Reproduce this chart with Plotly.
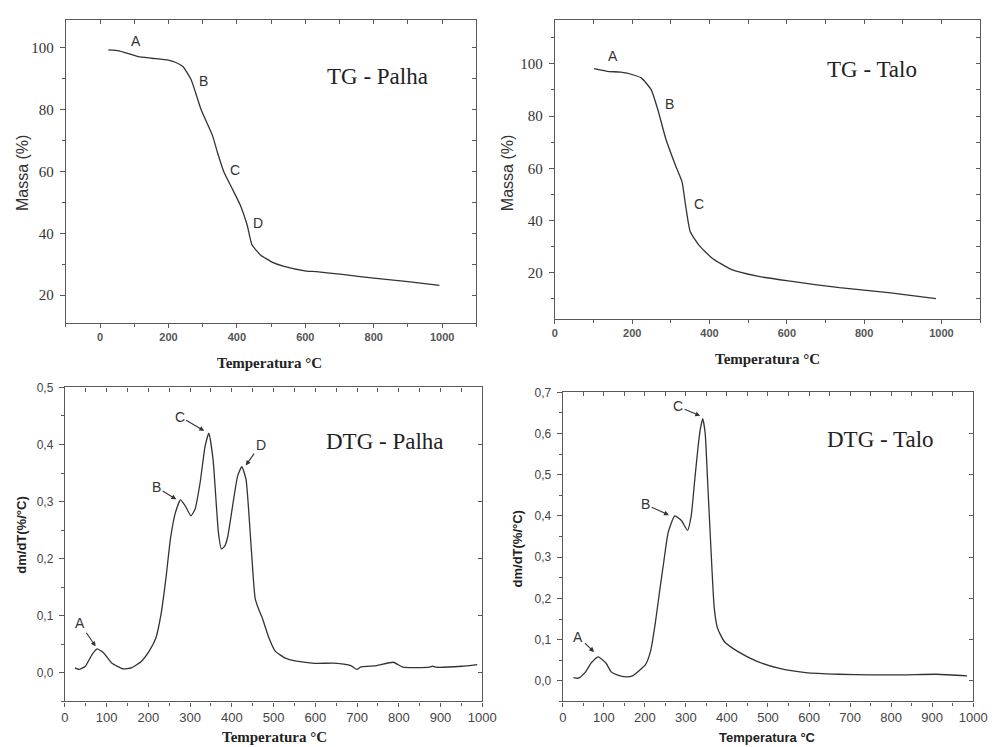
import plotly.graph_objects as go

# ---------------- data ----------------
tg_palha_T = [24, 55, 80, 112, 151, 199, 220, 242, 266, 295, 329, 343, 362, 386, 410, 430, 444, 468, 506, 535, 603, 632, 708, 800, 900, 992]
tg_palha_M = [99.3, 99.0, 98.2, 97.1, 96.6, 96.0, 95.3, 93.9, 89.7, 80.1, 71.5, 66.2, 59.8, 54.5, 49.1, 42.7, 36.3, 33.1, 30.5, 29.4, 27.8, 27.6, 26.7, 25.5, 24.4, 23.2]

tg_talo_T = [101, 135, 170, 202, 224, 249, 266, 287, 312, 329, 338, 350, 372, 406, 456, 524, 609, 736, 863, 986]
tg_talo_M = [98.1, 97.1, 96.8, 95.8, 94.5, 90.1, 82.6, 71.2, 61.1, 54.7, 45.9, 35.8, 30.7, 25.7, 21.3, 18.7, 16.8, 14.3, 12.4, 10.1]

dtg_palha_T = [24, 34, 49, 65, 77, 93, 112, 140, 159, 183, 202, 218, 230, 242, 253, 265, 277, 288, 302, 312, 324, 336, 345, 355, 363, 368, 375, 383, 390, 402, 414, 424, 434, 445, 456, 465, 473, 489, 504, 528, 559, 598, 653, 685, 700, 708, 747, 787, 810, 873, 881, 889, 951, 988]
dtg_palha_V = [0.0087, 0.006, 0.0116, 0.032, 0.042, 0.035, 0.0174, 0.007, 0.0087, 0.020, 0.038, 0.061, 0.101, 0.165, 0.235, 0.281, 0.303, 0.293, 0.275, 0.287, 0.333, 0.397, 0.420, 0.374, 0.293, 0.245, 0.217, 0.222, 0.238, 0.293, 0.345, 0.361, 0.339, 0.235, 0.130, 0.110, 0.096, 0.061, 0.038, 0.026, 0.020, 0.0168, 0.0168, 0.0128, 0.006, 0.010, 0.0128, 0.0186, 0.0099, 0.0099, 0.012, 0.0099, 0.0116, 0.0145]

dtg_talo_T = [26, 38, 54, 70, 86, 98, 106, 118, 134, 154, 170, 190, 202, 214, 225, 237, 245, 257, 273, 289, 304, 313, 321, 329, 335, 341, 347, 353, 361, 369, 377, 393, 425, 472, 528, 592, 672, 751, 831, 911, 985]
dtg_talo_V = [0.008, 0.0064, 0.020, 0.044, 0.058, 0.050, 0.042, 0.0217, 0.0137, 0.0096, 0.012, 0.028, 0.040, 0.072, 0.137, 0.225, 0.281, 0.361, 0.400, 0.389, 0.365, 0.401, 0.482, 0.562, 0.610, 0.636, 0.600, 0.482, 0.321, 0.177, 0.128, 0.096, 0.072, 0.048, 0.030, 0.020, 0.016, 0.0144, 0.0144, 0.016, 0.012]

# ---------------- styles ----------------
SERIF = "Liberation Serif"
SANS = "Liberation Sans"
LINE = "#333333"
AX = "#5a5a5a"

W, H = 1000, 747
def px(x):
    return x / W
def py(y):
    return 1 - y / H

fig = go.Figure()
traces = [
    (tg_palha_T, tg_palha_M, "x", "y"),
    (tg_talo_T, tg_talo_M, "x2", "y2"),
    (dtg_palha_T, dtg_palha_V, "x3", "y3"),
    (dtg_talo_T, dtg_talo_V, "x4", "y4"),
]
for xs, ys, xa, ya in traces:
    fig.add_trace(go.Scatter(x=xs, y=ys, mode="lines", xaxis=xa, yaxis=ya,
                             line=dict(color=LINE, width=1.3, shape="spline", smoothing=0.5),
                             showlegend=False, hoverinfo="skip"))

panels = [
    dict(xd=[px(63), px(481)], yd=[py(319), py(13)], xr=[-100, 1100], yr=[11, 109],
         xdt=200, xmi=100, ydt=20, ymi=10,
         xf=dict(family=SANS, size=11, color="#555", weight="bold"),
         yf=dict(family=SERIF, size=15, color="#333"), yfmt=None),
    dict(xd=[px(561), px(994)], yd=[py(315), py(13)], xr=[0, 1100], yr=[2.3, 116.8],
         xdt=200, xmi=100, ydt=20, ymi=10,
         xf=dict(family=SANS, size=11, color="#555", weight="bold"),
         yf=dict(family=SERIF, size=15, color="#333"), yfmt=None),
    dict(xd=[px(62), px(487)], yd=[py(701), py(384)], xr=[0, 1000], yr=[-0.05, 0.5],
         xdt=100, xmi=50, ydt=0.1, ymi=0.05,
         xf=dict(family=SANS, size=13, color="#444"),
         yf=dict(family=SANS, size=12, color="#444"), yfmt=".1f"),
    dict(xd=[px(569), px(987)], yd=[py(701), py(389)], xr=[0, 1000], yr=[-0.05, 0.7],
         xdt=100, xmi=50, ydt=0.1, ymi=0.05,
         xf=dict(family=SANS, size=13, color="#444"),
         yf=dict(family=SANS, size=12, color="#444"), yfmt=".1f"),
]

layout = dict(width=W, height=H, autosize=False, margin=dict(l=0, r=0, t=0, b=0),
              paper_bgcolor="white", plot_bgcolor="white", separators=",.", showlegend=False)

for i, p in enumerate(panels, start=1):
    sx = "" if i == 1 else str(i)
    xk, yk = "xaxis" + sx, "yaxis" + sx
    xa_id, ya_id = "x" + sx, "y" + sx
    layout[xk] = dict(domain=p["xd"], range=p["xr"], anchor=ya_id, showgrid=False, zeroline=False,
                      showline=True, linecolor=AX, linewidth=1.2, ticks="outside", ticklen=4,
                      tickcolor=AX, tickwidth=1, tick0=0, dtick=p["xdt"], tickfont=p["xf"],
                      minor=dict(dtick=p["xmi"], ticks="outside", ticklen=3, tickcolor=AX, showgrid=False),
                      fixedrange=True)
    ydict = dict(domain=p["yd"], range=p["yr"], anchor=xa_id, showgrid=False, zeroline=False,
                 showline=True, linecolor=AX, linewidth=1.2, ticks="outside", ticklen=5,
                 tickcolor=AX, tickwidth=1, tick0=0, dtick=p["ydt"], tickfont=p["yf"],
                 minor=dict(dtick=p["ymi"], ticks="outside", ticklen=3, tickcolor=AX, showgrid=False),
                 ticklabelstandoff=3, fixedrange=True)
    if p["yfmt"]:
        ydict["tickformat"] = p["yfmt"]
    layout[yk] = ydict
    ox = "xaxis" + str(i + 4)
    oy = "yaxis" + str(i + 4)
    layout[ox] = dict(overlaying=xa_id, anchor=ya_id, side="top", range=p["xr"], showgrid=False,
                      zeroline=False, showline=True, linecolor=AX, linewidth=1.2, ticks="inside",
                      ticklen=4, tickcolor=AX, tick0=0, dtick=p["xmi"] if i > 2 else p["xdt"] / 2,
                      showticklabels=False, fixedrange=True)
    layout[oy] = dict(overlaying=ya_id, anchor=xa_id, side="right", range=p["yr"], showgrid=False,
                      zeroline=False, showline=True, linecolor=AX, linewidth=1.2, ticks="inside",
                      ticklen=4, tickcolor=AX, tick0=0, dtick=p["ydt"] if i > 2 else p["ymi"],
                      showticklabels=False, fixedrange=True)
    fig.add_trace(go.Scatter(x=[], y=[], xaxis="x" + str(i + 4), yaxis=ya_id, showlegend=False))
    fig.add_trace(go.Scatter(x=[], y=[], xaxis=xa_id, yaxis="y" + str(i + 4), showlegend=False))

fig.update_layout(**layout)

ann = []
titles = [("TG - Palha", 812, 90.7, "x", "y"), ("TG - Talo", 820, 97.7, "x2", "y2"),
          ("DTG - Palha", 767, 0.406, "x3", "y3"), ("DTG - Talo", 775, 0.586, "x4", "y4")]
for t, x, y, xr, yr in titles:
    ann.append(dict(text=t, x=x, y=y, xref=xr, yref=yr, showarrow=False,
                    font=dict(family=SERIF, size=23, color="#222")))

tg_labels = [("A", 105, 102.1, "x", "y"), ("B", 302, 89.1, "x", "y"), ("C", 394, 60.6, "x", "y"),
             ("D", 463, 43.3, "x", "y"),
             ("A", 149, 103.0, "x2", "y2"), ("B", 297, 84.5, "x2", "y2"), ("C", 373, 46.3, "x2", "y2")]
for t, x, y, xr, yr in tg_labels:
    ann.append(dict(text=t, x=x, y=y, xref=xr, yref=yr, showarrow=False,
                    font=dict(family=SANS, size=14, color="#333")))

dtg_labels = [
    ("A", 36, 0.087, 75, 0.045, "x3", "y3"), ("B", 220, 0.325, 269, 0.303, "x3", "y3"),
    ("C", 275, 0.449, 336, 0.423, "x3", "y3"), ("D", 469, 0.400, 432, 0.362, "x3", "y3"),
    ("A", 38, 0.107, 78, 0.068, "x4", "y4"), ("B", 202, 0.428, 261, 0.401, "x4", "y4"),
    ("C", 281, 0.666, 337, 0.642, "x4", "y4"),
]
for t, tx, ty, hx, hy, xr, yr in dtg_labels:
    ann.append(dict(text=t, x=hx, y=hy, ax=tx, ay=ty, xref=xr, yref=yr, axref=xr, ayref=yr,
                    showarrow=True, arrowhead=2, arrowsize=0.9, arrowwidth=1.1, arrowcolor="#333",
                    standoff=1, font=dict(family=SANS, size=14, color="#333")))

axis_titles = [
    ("Temperatura °C", 270, 359, 0, dict(family=SERIF, size=15, color="#222", weight="bold")),
    ("Massa (%)", 19, 168, -90, dict(family=SANS, size=16, color="#333")),
    ("Temperatura °C", 777, 355, 0, dict(family=SERIF, size=15, color="#222", weight="bold")),
    ("Massa (%)", 513, 168, -90, dict(family=SANS, size=16, color="#333")),
    ("Temperatura °C", 275, 737, 0, dict(family=SERIF, size=15, color="#222", weight="bold")),
    ("dm/dT(%/°C)", 17, 533, -90, dict(family=SANS, size=13, color="#222", weight="bold")),
    ("Temperatura °C", 778, 737, 0, dict(family=SANS, size=13, color="#222", weight="bold")),
    ("dm/dT(%/°C)", 523, 547, -90, dict(family=SANS, size=13, color="#222", weight="bold")),
]
for t, x, y, ang, f in axis_titles:
    ann.append(dict(text=t, x=px(x), y=py(y), xref="paper", yref="paper", showarrow=False,
                    textangle=ang, font=f, xanchor="center", yanchor="middle"))

fig.update_layout(annotations=ann)
fig.write_html("out.html", config={"displayModeBar": False},
               post_script="document.body.style.margin='0';document.body.style.overflow='hidden';")
